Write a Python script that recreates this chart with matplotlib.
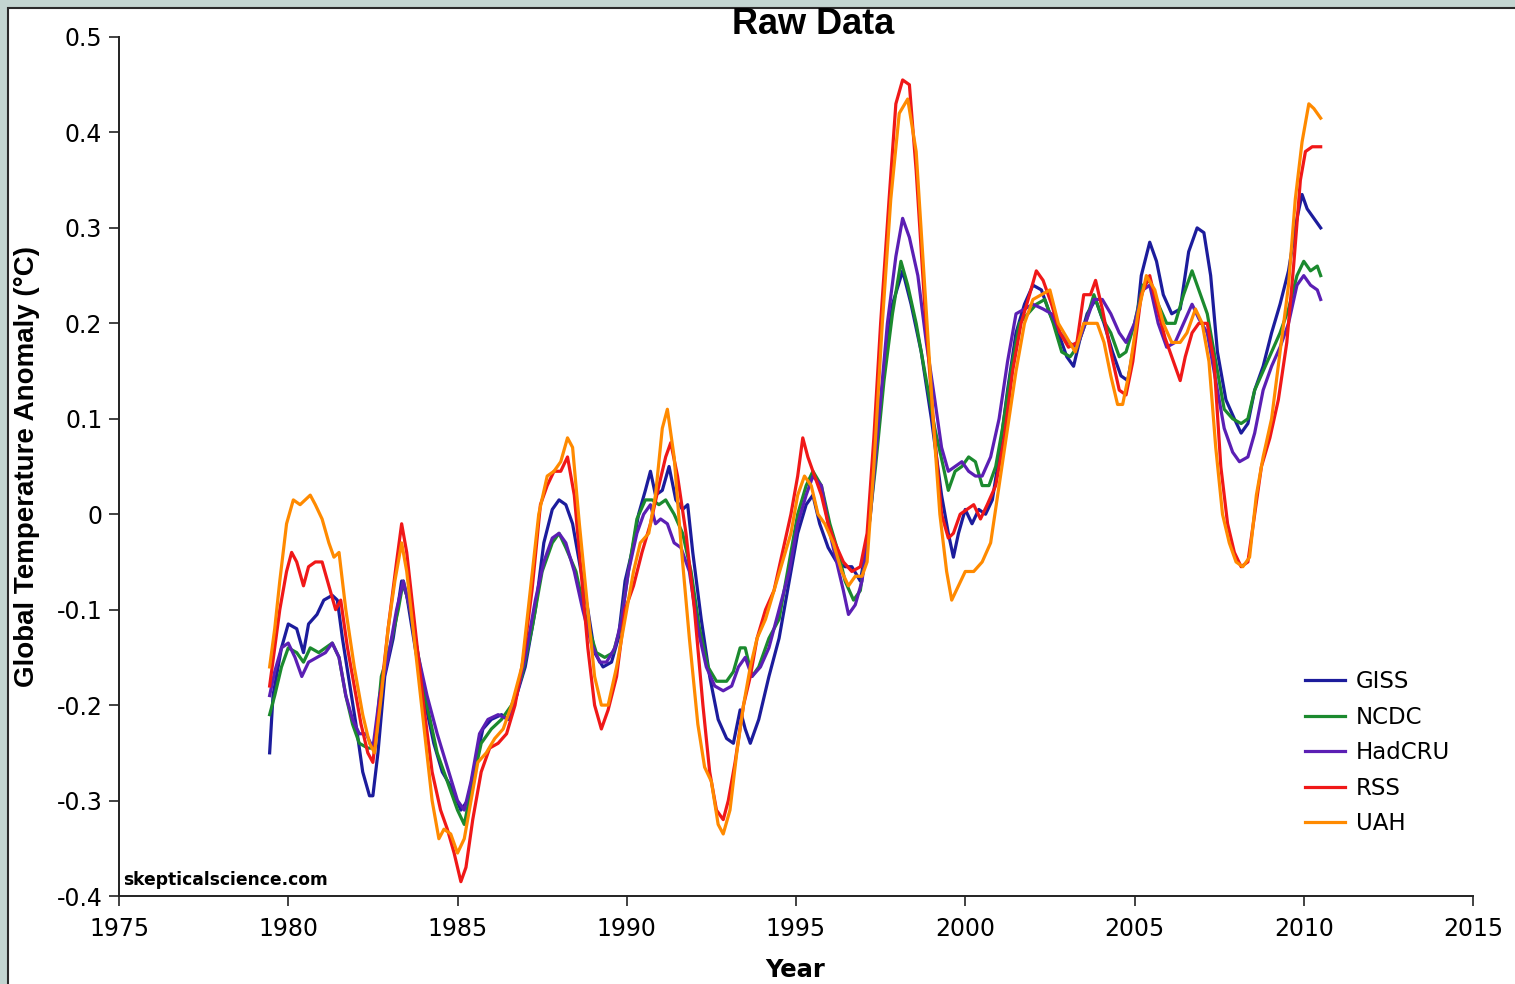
import matplotlib
matplotlib.use("Agg")
import matplotlib.pyplot as plt
import matplotlib.patches as mpatches

# ── 12-month running mean anomalies, five datasets ──────────────────────────
giss_year = [1979.45, 1979.55, 1979.8, 1980.0, 1980.25, 1980.45, 1980.6, 1980.85, 1981.05, 1981.3,
             1981.45, 1981.6, 1981.8, 1982.0, 1982.2, 1982.4, 1982.5, 1982.65, 1982.85, 1983.1,
             1983.35, 1983.5, 1983.75, 1984.0, 1984.3, 1984.55, 1984.8, 1985.1, 1985.3, 1985.5,
             1985.75, 1986.0, 1986.3, 1986.5, 1986.7, 1987.0, 1987.3, 1987.55, 1987.8, 1988.0,
             1988.2, 1988.4, 1988.6, 1988.85, 1989.05, 1989.3, 1989.55, 1989.75, 1989.95, 1990.15,
             1990.35, 1990.55, 1990.7, 1990.85, 1991.05, 1991.25, 1991.45, 1991.65, 1991.8, 1991.95,
             1992.2, 1992.45, 1992.7, 1992.95, 1993.15, 1993.35, 1993.5, 1993.65, 1993.9, 1994.2,
             1994.5, 1994.8, 1995.05, 1995.3, 1995.5, 1995.7, 1995.95, 1996.2, 1996.45, 1996.65,
             1996.9, 1997.1, 1997.35, 1997.6, 1997.85, 1998.15, 1998.4, 1998.7, 1999.0, 1999.3,
             1999.5, 1999.65, 1999.8, 2000.0, 2000.2, 2000.4, 2000.6, 2000.8, 2001.0, 2001.25,
             2001.5, 2001.75, 2002.0, 2002.25, 2002.5, 2002.75, 2003.0, 2003.2, 2003.4, 2003.6,
             2003.85, 2004.1, 2004.35, 2004.6, 2004.8, 2005.0, 2005.2, 2005.45, 2005.65, 2005.85,
             2006.1, 2006.35, 2006.6, 2006.85, 2007.05, 2007.25, 2007.45, 2007.7, 2007.95, 2008.15,
             2008.35, 2008.55, 2008.8, 2009.05, 2009.3, 2009.55, 2009.8, 2009.95, 2010.1, 2010.3,
             2010.5]
giss_anom = [-0.25, -0.19, -0.14, -0.115, -0.12, -0.145, -0.115, -0.105, -0.09, -0.085,
             -0.09, -0.13, -0.175, -0.22, -0.27, -0.295, -0.295, -0.25, -0.17, -0.13,
             -0.07, -0.085, -0.14, -0.19, -0.24, -0.27, -0.285, -0.31, -0.3, -0.265,
             -0.225, -0.215, -0.21, -0.215, -0.195, -0.16, -0.1, -0.03, 0.005, 0.015,
             0.01, -0.01, -0.05, -0.1, -0.145, -0.16, -0.155, -0.13, -0.07, -0.04,
             0.0, 0.025, 0.045, 0.02, 0.025, 0.05, 0.015, 0.005, 0.01, -0.04,
             -0.11, -0.17, -0.215, -0.235, -0.24, -0.205, -0.225, -0.24, -0.215, -0.17,
             -0.13, -0.07, -0.02, 0.01, 0.02, -0.01, -0.035, -0.05, -0.055, -0.055,
             -0.07, -0.03, 0.07, 0.15, 0.22, 0.255, 0.22, 0.17, 0.1, 0.02,
             -0.02, -0.045, -0.02, 0.005, -0.01, 0.005, 0.0, 0.015, 0.06, 0.13,
             0.19, 0.22, 0.24, 0.235, 0.21, 0.19, 0.165, 0.155, 0.185, 0.21,
             0.225, 0.2, 0.17, 0.145, 0.14, 0.18, 0.25, 0.285, 0.265, 0.23,
             0.21, 0.215, 0.275, 0.3, 0.295, 0.25, 0.17, 0.12, 0.1, 0.085,
             0.095, 0.13, 0.155, 0.19, 0.22, 0.255, 0.31, 0.335, 0.32, 0.31,
             0.3]

ncdc_year = [1979.45, 1979.6, 1979.8, 1980.0, 1980.25, 1980.45, 1980.65, 1980.9, 1981.1, 1981.3,
             1981.5, 1981.7, 1981.9, 1982.1, 1982.35, 1982.55, 1982.75, 1983.0, 1983.25, 1983.4,
             1983.6, 1983.85, 1984.1, 1984.4, 1984.7, 1985.0, 1985.2, 1985.45, 1985.7, 1986.0,
             1986.3, 1986.6, 1986.9, 1987.2, 1987.5, 1987.8, 1988.0, 1988.2, 1988.5, 1988.8,
             1989.1, 1989.35, 1989.6, 1989.8, 1990.05, 1990.3, 1990.55, 1990.75, 1990.95, 1991.15,
             1991.4, 1991.65, 1991.9, 1992.15, 1992.4, 1992.65, 1992.95, 1993.15, 1993.35, 1993.5,
             1993.7, 1993.9, 1994.2, 1994.5, 1994.8, 1995.05, 1995.3, 1995.5, 1995.75, 1996.0,
             1996.25, 1996.45, 1996.7, 1996.9, 1997.1, 1997.35, 1997.6, 1997.85, 1998.1, 1998.3,
             1998.55, 1998.8, 1999.1, 1999.35, 1999.5, 1999.7, 1999.9, 2000.1, 2000.3, 2000.5,
             2000.7, 2000.9, 2001.1, 2001.35, 2001.6, 2001.85, 2002.1, 2002.35, 2002.6, 2002.85,
             2003.1, 2003.3, 2003.55, 2003.8, 2004.05, 2004.3, 2004.55, 2004.75, 2005.0, 2005.25,
             2005.45, 2005.7, 2005.95, 2006.2, 2006.45, 2006.7, 2006.9, 2007.15, 2007.4, 2007.65,
             2007.9, 2008.15, 2008.35, 2008.55, 2008.8, 2009.05, 2009.3, 2009.55, 2009.8, 2010.0,
             2010.2, 2010.4, 2010.5]
ncdc_anom = [-0.21, -0.19, -0.16, -0.14, -0.145, -0.155, -0.14, -0.145, -0.14, -0.135,
             -0.15, -0.19, -0.22, -0.24, -0.245, -0.245, -0.17, -0.14, -0.1, -0.07,
             -0.1, -0.15, -0.2, -0.25, -0.28, -0.31, -0.325, -0.28, -0.24, -0.225,
             -0.215, -0.2, -0.17, -0.12, -0.06, -0.03, -0.02, -0.035, -0.06, -0.11,
             -0.145, -0.15, -0.145, -0.12, -0.06, -0.005, 0.015, 0.015, 0.01, 0.015,
             0.0, -0.02, -0.06, -0.12, -0.16, -0.175, -0.175, -0.165, -0.14, -0.14,
             -0.17, -0.16, -0.13, -0.11, -0.05, 0.0, 0.03, 0.045, 0.03, -0.01,
             -0.04, -0.07, -0.09, -0.08, -0.03, 0.05, 0.14, 0.21, 0.265, 0.24,
             0.2, 0.15, 0.09, 0.05, 0.025, 0.045, 0.05, 0.06, 0.055, 0.03,
             0.03, 0.05, 0.09, 0.15, 0.2, 0.21, 0.22, 0.225, 0.2, 0.17,
             0.165, 0.175, 0.2, 0.23, 0.205, 0.19, 0.165, 0.17, 0.2, 0.24,
             0.245, 0.22, 0.2, 0.2, 0.23, 0.255, 0.235, 0.21, 0.16, 0.11,
             0.1, 0.095, 0.1, 0.13, 0.15, 0.17, 0.19, 0.215, 0.25, 0.265,
             0.255, 0.26, 0.25]

hadcru_year = [1979.45, 1979.6, 1979.8, 1980.0, 1980.2, 1980.4, 1980.6, 1980.85, 1981.1, 1981.3,
               1981.5, 1981.7, 1981.9, 1982.1, 1982.3, 1982.5, 1982.7, 1982.95, 1983.2, 1983.4,
               1983.6, 1983.85, 1984.1, 1984.4, 1984.7, 1985.0, 1985.2, 1985.4, 1985.65, 1985.9,
               1986.2, 1986.5, 1986.75, 1987.0, 1987.3, 1987.55, 1987.8, 1988.0, 1988.2, 1988.45,
               1988.7, 1988.95, 1989.2, 1989.4, 1989.65, 1989.85, 1990.05, 1990.3, 1990.5, 1990.7,
               1990.85, 1991.0, 1991.2, 1991.4, 1991.6, 1991.85, 1992.1, 1992.35, 1992.6, 1992.85,
               1993.1, 1993.3, 1993.5, 1993.7, 1993.95, 1994.2, 1994.5, 1994.8, 1995.05, 1995.3,
               1995.5, 1995.75, 1996.0, 1996.2, 1996.4, 1996.55, 1996.75, 1996.95, 1997.2, 1997.45,
               1997.7, 1997.95, 1998.15, 1998.35, 1998.6, 1998.85, 1999.1, 1999.3, 1999.5, 1999.7,
               1999.9, 2000.1, 2000.3, 2000.5, 2000.75, 2001.0, 2001.25, 2001.5, 2001.75, 2002.0,
               2002.3, 2002.55, 2002.8, 2003.05, 2003.3, 2003.55, 2003.8, 2004.05, 2004.3, 2004.55,
               2004.75, 2005.0, 2005.25, 2005.45, 2005.7, 2005.95, 2006.2, 2006.45, 2006.7, 2006.9,
               2007.15, 2007.4, 2007.65, 2007.9, 2008.1, 2008.35, 2008.55, 2008.8, 2009.05, 2009.3,
               2009.55, 2009.8, 2010.0, 2010.2, 2010.4, 2010.5]
hadcru_anom = [-0.19, -0.165, -0.14, -0.135, -0.15, -0.17, -0.155, -0.15, -0.145, -0.135,
               -0.15, -0.19, -0.215, -0.23, -0.23, -0.245, -0.19, -0.15, -0.1, -0.07,
               -0.1, -0.15, -0.19, -0.23, -0.265, -0.3, -0.31, -0.28, -0.23, -0.215,
               -0.21, -0.215, -0.19, -0.15, -0.09, -0.05, -0.025, -0.02, -0.03, -0.06,
               -0.1, -0.135, -0.155, -0.155, -0.14, -0.11, -0.06, -0.02, 0.0, 0.01,
               -0.01, -0.005, -0.01, -0.03, -0.035, -0.06, -0.12, -0.16, -0.18, -0.185,
               -0.18, -0.16, -0.15, -0.17, -0.16, -0.14, -0.1, -0.06, -0.01, 0.02,
               0.04, 0.03, -0.02, -0.05, -0.08, -0.105, -0.095, -0.07, 0.0, 0.1,
               0.2, 0.27, 0.31, 0.29, 0.25, 0.18, 0.12, 0.07, 0.045, 0.05,
               0.055, 0.045, 0.04, 0.04, 0.06, 0.1, 0.16, 0.21, 0.215, 0.22,
               0.215, 0.21, 0.19, 0.18, 0.175, 0.2, 0.225, 0.225, 0.21, 0.19,
               0.18, 0.2, 0.235, 0.24, 0.2, 0.175, 0.18, 0.2, 0.22, 0.205,
               0.19, 0.14, 0.09, 0.065, 0.055, 0.06, 0.085, 0.13, 0.155, 0.175,
               0.2, 0.24, 0.25, 0.24, 0.235, 0.225]

rss_year = [1979.45, 1979.6, 1979.75, 1979.95, 1980.1, 1980.25, 1980.45, 1980.6, 1980.8, 1981.0,
            1981.2, 1981.4, 1981.55, 1981.75, 1981.95, 1982.15, 1982.35, 1982.5, 1982.7, 1982.95,
            1983.2, 1983.35, 1983.5, 1983.75, 1984.0, 1984.25, 1984.5, 1984.7, 1984.9, 1985.1,
            1985.25, 1985.45, 1985.7, 1985.95, 1986.2, 1986.45, 1986.7, 1986.95, 1987.2, 1987.45,
            1987.65, 1987.85, 1988.05, 1988.25, 1988.45, 1988.65, 1988.85, 1989.05, 1989.25, 1989.45,
            1989.7, 1989.95, 1990.2, 1990.45, 1990.7, 1990.95, 1991.15, 1991.3, 1991.5, 1991.75,
            1992.0, 1992.25, 1992.45, 1992.65, 1992.85, 1993.0, 1993.2, 1993.45, 1993.65, 1993.85,
            1994.1, 1994.35, 1994.6, 1994.85, 1995.05, 1995.2, 1995.35, 1995.55, 1995.75, 1995.95,
            1996.15, 1996.4, 1996.65, 1996.9, 1997.1, 1997.3, 1997.5, 1997.75, 1997.95, 1998.15,
            1998.35, 1998.55, 1998.8, 1999.05, 1999.3, 1999.5, 1999.65, 1999.85, 2000.05, 2000.25,
            2000.45, 2000.65, 2000.9, 2001.15, 2001.4, 2001.65, 2001.9, 2002.1, 2002.3, 2002.55,
            2002.8, 2003.05, 2003.3, 2003.5, 2003.7, 2003.85, 2004.05, 2004.3, 2004.55, 2004.75,
            2004.95, 2005.2, 2005.45, 2005.65, 2005.9, 2006.15, 2006.35, 2006.5, 2006.7, 2006.9,
            2007.15, 2007.35, 2007.55, 2007.75, 2007.95, 2008.15, 2008.35, 2008.55, 2008.75, 2009.0,
            2009.25, 2009.5, 2009.7, 2009.9, 2010.05, 2010.25, 2010.5]
rss_anom = [-0.18, -0.14, -0.1, -0.06, -0.04, -0.05, -0.075, -0.055, -0.05, -0.05,
            -0.075, -0.1, -0.09, -0.14, -0.18, -0.22, -0.25, -0.26, -0.2, -0.12,
            -0.05, -0.01, -0.04, -0.12, -0.2, -0.27, -0.31, -0.33, -0.355, -0.385,
            -0.37, -0.32, -0.27, -0.245, -0.24, -0.23, -0.2, -0.15, -0.08, 0.01,
            0.03, 0.045, 0.045, 0.06, 0.02, -0.06, -0.14, -0.2, -0.225, -0.205,
            -0.17, -0.1, -0.075, -0.04, -0.01, 0.03, 0.06, 0.075, 0.04, -0.02,
            -0.1, -0.2, -0.27, -0.31, -0.32, -0.3, -0.26, -0.2, -0.17, -0.13,
            -0.1, -0.08, -0.04, 0.0, 0.04, 0.08, 0.06, 0.04, 0.02, -0.01,
            -0.03, -0.05, -0.06, -0.055, -0.02, 0.08, 0.2, 0.33, 0.43, 0.455,
            0.45, 0.36, 0.22, 0.1, 0.0, -0.025, -0.02, 0.0, 0.005, 0.01,
            -0.005, 0.01, 0.03, 0.08, 0.15, 0.2, 0.23, 0.255, 0.245, 0.22,
            0.19, 0.175, 0.18, 0.23, 0.23, 0.245, 0.215, 0.17, 0.13, 0.125,
            0.16, 0.23, 0.25, 0.22, 0.185, 0.16, 0.14, 0.165, 0.19, 0.2,
            0.2, 0.16, 0.05, -0.01, -0.04, -0.055, -0.05, 0.0, 0.05, 0.08,
            0.12, 0.18, 0.26, 0.35, 0.38, 0.385, 0.385]

uah_year = [1979.45, 1979.6, 1979.75, 1979.95, 1980.15, 1980.35, 1980.5, 1980.65, 1980.8, 1981.0,
            1981.2, 1981.35, 1981.5, 1981.7, 1981.95, 1982.2, 1982.4, 1982.55, 1982.75, 1982.95,
            1983.15, 1983.35, 1983.5, 1983.75, 1984.0, 1984.25, 1984.45, 1984.6, 1984.8, 1985.0,
            1985.2, 1985.4, 1985.6, 1985.85, 1986.1, 1986.35, 1986.6, 1986.9, 1987.15, 1987.4,
            1987.65, 1987.85, 1988.05, 1988.25, 1988.4, 1988.6, 1988.85, 1989.05, 1989.25, 1989.45,
            1989.7, 1989.95, 1990.2, 1990.4, 1990.65, 1990.85, 1991.05, 1991.2, 1991.4, 1991.6,
            1991.85, 1992.1, 1992.3, 1992.5, 1992.7, 1992.85, 1993.05, 1993.25, 1993.45, 1993.65,
            1993.85, 1994.1, 1994.35, 1994.6, 1994.85, 1995.05, 1995.25, 1995.45, 1995.65, 1995.85,
            1996.1, 1996.35, 1996.55, 1996.75, 1996.95, 1997.1, 1997.3, 1997.55, 1997.8, 1998.05,
            1998.3, 1998.55, 1998.8, 1999.05, 1999.25, 1999.45, 1999.6, 1999.8, 2000.0, 2000.25,
            2000.5, 2000.75, 2001.0, 2001.25, 2001.5, 2001.75, 2002.0, 2002.25, 2002.5, 2002.75,
            2003.0, 2003.25, 2003.5, 2003.7, 2003.9, 2004.1, 2004.3, 2004.5, 2004.65, 2004.85,
            2005.1, 2005.35, 2005.6, 2005.85, 2006.1, 2006.35, 2006.55, 2006.8, 2007.0, 2007.2,
            2007.4, 2007.6, 2007.8, 2008.0, 2008.2, 2008.4, 2008.6, 2008.8, 2009.05, 2009.3,
            2009.55, 2009.75, 2009.95, 2010.15, 2010.3, 2010.5]
uah_anom = [-0.16, -0.12, -0.07, -0.01, 0.015, 0.01, 0.015, 0.02, 0.01, -0.005,
            -0.03, -0.045, -0.04, -0.1, -0.16, -0.21, -0.24, -0.25, -0.19, -0.12,
            -0.07, -0.03, -0.06, -0.14, -0.22, -0.3, -0.34, -0.33, -0.335, -0.355,
            -0.34, -0.3, -0.26, -0.25, -0.235, -0.225, -0.2, -0.16, -0.08, 0.0,
            0.04, 0.045, 0.055, 0.08, 0.07, -0.01, -0.1, -0.17, -0.2, -0.2,
            -0.16, -0.11, -0.06, -0.03, -0.02, 0.02, 0.09, 0.11, 0.06, -0.03,
            -0.13, -0.22, -0.265, -0.28, -0.325, -0.335, -0.31, -0.25, -0.2, -0.16,
            -0.13, -0.11, -0.08, -0.05, -0.02, 0.02, 0.04, 0.03, 0.0, -0.01,
            -0.03, -0.06, -0.075, -0.065, -0.065, -0.05, 0.05, 0.2, 0.33, 0.42,
            0.435, 0.38, 0.24, 0.1, 0.0, -0.06, -0.09, -0.075, -0.06, -0.06,
            -0.05, -0.03, 0.03, 0.09, 0.15, 0.2, 0.225, 0.23, 0.235, 0.2,
            0.185, 0.17, 0.2, 0.2, 0.2, 0.18, 0.145, 0.115, 0.115, 0.15,
            0.21, 0.25, 0.235, 0.2, 0.18, 0.18, 0.19, 0.215, 0.2, 0.16,
            0.07, 0.0, -0.03, -0.05, -0.055, -0.045, 0.02, 0.06, 0.1, 0.17,
            0.24, 0.33, 0.39, 0.43, 0.425, 0.415]

series_names = ["GISS", "NCDC", "HadCRU", "RSS", "UAH"]
series_colors = ["#1c1c9c", "#1b8a2e", "#5b1fb4", "#f01818", "#ff8a00"]

x_ticks = [1975, 1980, 1985, 1990, 1995, 2000, 2005, 2010, 2015]
y_ticks = [-0.4, -0.3, -0.2, -0.1, 0.0, 0.1, 0.2, 0.3, 0.4, 0.5]
y_tick_labels = ["-0.4", "-0.3", "-0.2", "-0.1", "0", "0.1", "0.2", "0.3", "0.4", "0.5"]

fig = plt.figure(figsize=(15.15, 9.84), dpi=100, facecolor="#c3d5d1")

# white slide panel with a dark frame, kept behind the axes
panel = mpatches.Rectangle((8 / 1515, -0.05), 1.1, 1 - 8 / 984 + 0.05,
                           transform=fig.transFigure, facecolor="white",
                           edgecolor="#2a2a2a", linewidth=1.5, zorder=-5)
fig.patches.append(panel)

ax = fig.add_axes([119 / 1515, 1 - 896 / 984, (1473 - 119) / 1515, (896 - 37) / 984])
ax.set_facecolor("none")
ax.set_zorder(2)

data = [(giss_year, giss_anom), (ncdc_year, ncdc_anom), (hadcru_year, hadcru_anom),
        (rss_year, rss_anom), (uah_year, uah_anom)]
for (yr, an), name, col in zip(data, series_names, series_colors):
    ax.plot(yr, an, color=col, lw=2.3, label=name, solid_joinstyle="round")

ax.set_xlim(1975, 2015)
ax.set_ylim(-0.4, 0.5)
ax.set_xticks(x_ticks)
ax.set_yticks(y_ticks)
ax.set_yticklabels(y_tick_labels)
ax.tick_params(axis="both", direction="out", length=7, width=1.2, labelsize=17,
               colors="#222222", labelcolor="black")
ax.tick_params(axis="y", pad=5)
ax.tick_params(axis="x", pad=8)
for side in ("top", "right"):
    ax.spines[side].set_visible(False)
for side in ("left", "bottom"):
    ax.spines[side].set_linewidth(1.4)
    ax.spines[side].set_color("#222222")

ax.set_ylabel("Global Temperature Anomaly (°C)", fontsize=20, fontweight="bold",
              family="Liberation Sans")
ax.yaxis.set_label_coords(-0.058, 0.5)
ax.set_xlabel("Year", fontsize=17.5, fontweight="bold")
ax.xaxis.set_label_coords(0.4995, -0.072)

fig.text(813 / 1515, 1 - 25 / 984, "Raw Data", ha="center", va="center",
         fontsize=26, fontweight="bold", family="Liberation Sans")

ax.text(0.003, 0.0186, "skepticalscience.com", transform=ax.transAxes,
        fontsize=12.3, fontweight="bold", ha="left", va="center")

ax.legend(loc="upper left", bbox_to_anchor=(0.876, 0.263), frameon=False,
          fontsize=16.5, handlelength=1.75, handletextpad=0.45,
          labelspacing=0.55, borderpad=0, borderaxespad=0)

fig.savefig("out.png", dpi=100, facecolor=fig.get_facecolor())
